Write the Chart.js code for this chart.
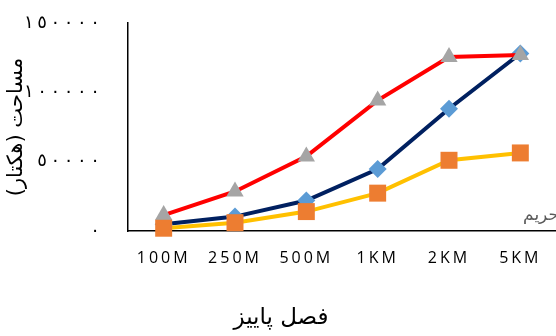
<!DOCTYPE html>
<html>
<head>
<meta charset="utf-8">
<script src="https://cdn.jsdelivr.net/npm/chart.js@4"></script>
<style>
  html, body { margin: 0; padding: 0; background: #fff; overflow: hidden; }
  #c { display: block; }
</style>
</head>
<body>
<canvas id="c" width="556" height="336"></canvas>
<script>
// Buffer distances along the x axis
const categories = ['100M', '250M', '500M', '1KM', '2KM', '5KM'];

// Area (hectares) for each series
const seriesNavy   = [4800, 10400, 22000, 44700, 88200, 128000];
const seriesRed    = [11500, 28500, 53800, 94200, 125500, 127000];
const seriesYellow = [2000, 6000, 14000, 27300, 51000, 56300];

// Y tick labels in Arabic-Indic digits
const yTickLabels = ['٠', '٥٠٠٠٠', '١٠٠٠٠٠', '١٥٠٠٠٠'];

const yTitle = 'مساحت (هکتار)';
const xTitle = 'فصل پاییز';
const cornerNote = 'حریم';

// Widen the spacing between characters of the x tick labels
const spacedLabels = {
  id: 'spacedLabels',
  beforeDraw(chart) {
    const s = chart.scales.x;
    if (!s || s._spacedWrap) return;
    const orig = s.drawLabels;
    s.drawLabels = function (area) {
      const ctx = this.ctx;
      ctx.save();
      ctx.letterSpacing = '3px';
      orig.call(this, area);
      ctx.restore();
    };
    s._spacedWrap = true;
  }
};

// Axis caption, season caption and the small note at the bottom right
const extraText = {
  id: 'extraText',
  afterDraw(chart) {
    const ctx = chart.ctx;
    const area = chart.chartArea;
    ctx.save();
    ctx.direction = 'rtl';
    ctx.textBaseline = 'middle';
    ctx.fillStyle = '#000';
    ctx.textAlign = 'center';

    // vertical axis caption, rotated
    ctx.save();
    ctx.translate(17, (area.top + area.bottom) / 2);
    ctx.rotate(-Math.PI / 2);
    ctx.font = '21px "DejaVu Sans"';
    ctx.fillText(yTitle, 0, 0);
    ctx.restore();

    ctx.font = '23px "DejaVu Sans"';
    ctx.fillText(xTitle, 281, 318);

    ctx.font = '17px "DejaVu Sans"';
    ctx.fillStyle = '#595959';
    ctx.textAlign = 'right';
    ctx.fillText(cornerNote, chart.width + 3, area.bottom - 15);
    ctx.restore();
  }
};

const ctx = document.getElementById('c').getContext('2d');
new Chart(ctx, {
  type: 'line',
  data: {
    labels: categories,
    datasets: [
      {
        label: 'Series 1',
        data: seriesYellow,
        borderColor: '#FFC000',
        backgroundColor: '#ED7D31',
        pointBackgroundColor: '#ED7D31',
        pointBorderColor: '#ED7D31',
        pointStyle: 'rect',
        pointRadius: 12,
        pointBorderWidth: 0,
        borderWidth: 4,
        order: 0
      },
      {
        label: 'Series 2',
        data: seriesRed,
        borderColor: '#FF0000',
        backgroundColor: '#A5A5A5',
        pointBackgroundColor: '#A5A5A5',
        pointBorderColor: '#A5A5A5',
        pointStyle: 'triangle',
        pointRadius: 10,
        pointBorderWidth: 0,
        borderWidth: 4,
        order: 1
      },
      {
        label: 'Series 3',
        data: seriesNavy,
        borderColor: '#002060',
        backgroundColor: '#5B9BD5',
        pointBackgroundColor: '#5B9BD5',
        pointBorderColor: '#5B9BD5',
        pointStyle: 'rectRot',
        pointRadius: 9,
        pointBorderWidth: 0,
        borderWidth: 4,
        order: 2
      }
    ]
  },
  options: {
    responsive: false,
    animation: false,
    clip: false,
    elements: { line: { tension: 0 } },
    layout: {
      autoPadding: false,
      padding: { top: 23, right: -4, left: 0, bottom: 0 }
    },
    plugins: {
      legend: { display: false },
      tooltip: { enabled: false },
      title: { display: false }
    },
    scales: {
      x: {
        offset: true,
        grid: { display: false, drawTicks: false },
        border: { display: true, color: '#000', width: 1.5 },
        ticks: {
          color: '#000',
          font: { family: '"Open Sans"', size: 16 },
          padding: 18,
          maxRotation: 0,
          autoSkip: false
        },
        afterFit(scale) {
          scale.height = 105;
          scale.paddingLeft = 0;
          scale.paddingRight = 0;
        }
      },
      y: {
        min: 0,
        max: 150000,
        grid: { display: false, drawTicks: false },
        border: { display: true, color: '#000', width: 1.5 },
        ticks: {
          stepSize: 50000,
          color: '#000',
          font: { family: '"DejaVu Sans"', size: 18 },
          padding: 28,
          // digits set apart by thin spaces, kept in left-to-right order
          callback: (value, index) => yTickLabels[index].split('').join('\u2009\u200E')
        },
        afterFit(scale) {
          scale.width = 128;
          scale.paddingTop = 0;
          scale.paddingBottom = 0;
        }
      }
    }
  },
  plugins: [spacedLabels, extraText]
});
</script>
</body>
</html>
